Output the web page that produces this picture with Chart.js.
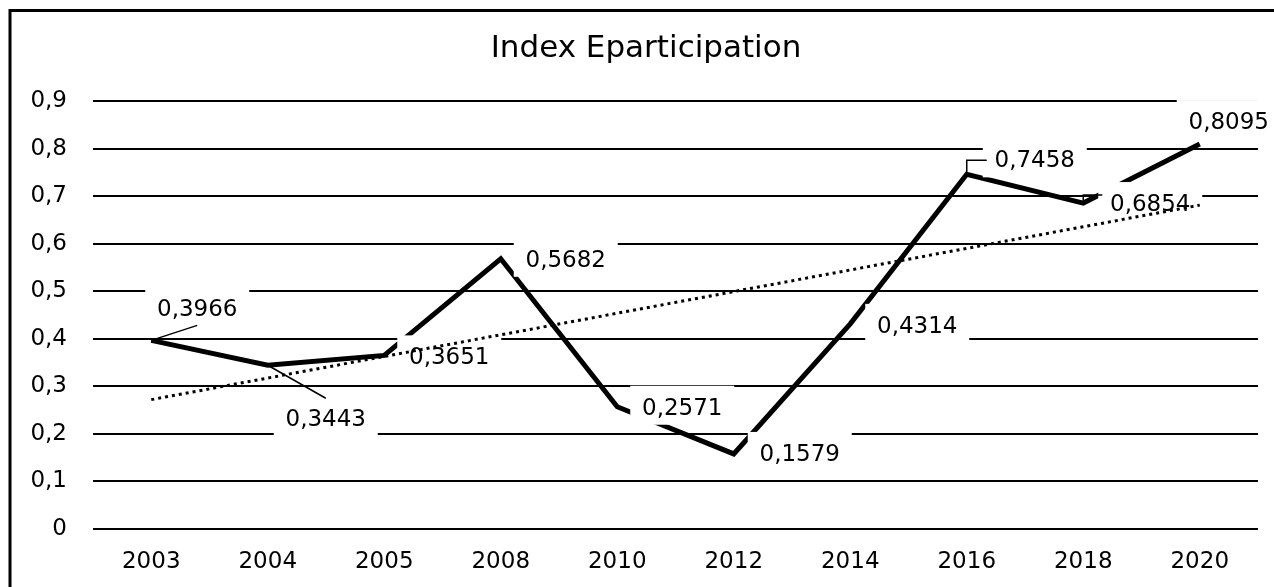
<!DOCTYPE html>
<html>
<head>
<meta charset="utf-8">
<script src="https://cdn.jsdelivr.net/npm/chart.js@4/dist/chart.umd.min.js"></script>
<style>
  html, body { margin: 0; padding: 0; background: #fff; }
  canvas { display: block; }
</style>
</head>
<body>
<canvas id="chart" width="1274" height="587"></canvas>
<script>
const chartTitle = 'Index Eparticipation';
const years = ['2003', '2004', '2005', '2008', '2010', '2012', '2014', '2016', '2018', '2020'];
const indexValues = [0.3966, 0.3443, 0.3651, 0.5682, 0.2571, 0.1579, 0.4314, 0.7458, 0.6854, 0.8095];
// linear trend, only its two ends
const trendValues = [0.272, null, null, null, null, null, null, null, null, 0.681];

function fmt(v) {
  return v === 0 ? '0' : String(v).replace('.', ',');
}

// label box offsets from the point (px), and whether a leader line is drawn
const labelOffsets = [[46, -31], [58, 54], [65, 2], [65, 1], [65, 1], [66, 0], [67, 2], [68, -14], [67, 1], [29, -22]];
const labelLeaders = [true, true, false, false, false, false, false, true, true, false];

const boxLabels = {
  id: 'boxLabels',
  afterDatasetDraw(chart, args) {
    if (args.index !== 0) return;
    const ctx = chart.ctx;
    const meta = chart.getDatasetMeta(0);
    ctx.save();
    ctx.font = '23px "DejaVu Sans"';
    ctx.textAlign = 'center';
    ctx.textBaseline = 'middle';
    meta.data.forEach((pt, i) => {
      const cx = pt.x + labelOffsets[i][0];
      const cy = pt.y + labelOffsets[i][1];
      const w = 104;
      const l = cx - w / 2, t = cy - 22, b = cy + 17;
      ctx.fillStyle = '#fff';
      ctx.fillRect(l, t, w, b - t);
      if (labelLeaders[i]) {
        ctx.strokeStyle = '#000';
        ctx.lineWidth = 1.5;
        ctx.beginPath();
        ctx.moveTo(pt.x, pt.y);
        if (pt.y > b) {
          ctx.lineTo(cx, b - 1);
        } else if (pt.y < t) {
          ctx.lineTo(cx, t + 1);
        } else {
          const ly = Math.min(pt.y - 8, cy);
          ctx.lineTo(pt.x, ly);
          ctx.lineTo(l + 4, ly);
        }
        ctx.stroke();
      }
      ctx.fillStyle = '#000';
      ctx.fillText(fmt(indexValues[i]), cx, cy + 1);
    });
    ctx.restore();
  },
  afterDraw(chart) {
    const ctx = chart.ctx;
    ctx.save();
    // title, centred a bit right of the canvas middle like the source
    ctx.fillStyle = '#000';
    ctx.font = '31px "DejaVu Sans"';
    ctx.textAlign = 'center';
    ctx.textBaseline = 'middle';
    ctx.fillText(chartTitle, 646, 49);
    // frame
    ctx.strokeStyle = '#000';
    ctx.lineWidth = 3;
    ctx.strokeRect(10, 10.5, 1400, 800);
    ctx.restore();
  }
};

Chart.defaults.font.family = '"DejaVu Sans"';
Chart.defaults.color = '#000';

new Chart(document.getElementById('chart'), {
  type: 'line',
  data: {
    labels: years,
    datasets: [
      {
        label: chartTitle,
        data: indexValues,
        borderColor: '#000',
        borderWidth: 5,
        borderJoinStyle: 'miter',
        pointRadius: 0,
        tension: 0,
        order: 2
      },
      {
        label: 'Trend',
        data: trendValues,
        borderColor: '#000',
        borderWidth: 3,
        borderDash: [3, 4],
        pointRadius: 0,
        spanGaps: true,
        order: 1
      }
    ]
  },
  options: {
    responsive: false,
    animation: false,
    events: [],
    layout: { padding: { top: 101, left: 10, right: 16, bottom: 0 } },
    plugins: {
      legend: { display: false },
      tooltip: { enabled: false },
      title: { display: false }
    },
    scales: {
      x: {
        offset: true,
        grid: { display: false },
        border: { display: false },
        ticks: { font: { size: 23 }, padding: 11, maxRotation: 0 },
        afterFit(scale) { scale.height = 58; }
      },
      y: {
        min: 0,
        max: 0.9,
        grid: { color: '#000', lineWidth: 2, drawTicks: false },
        border: { display: false },
        ticks: {
          stepSize: 0.1,
          padding: 26,
          font: { size: 23 },
          callback: v => v === 0 ? '0' : v.toFixed(1).replace('.', ',')
        },
        afterFit(scale) { scale.width = 83; }
      }
    }
  },
  plugins: [boxLabels]
});
</script>
</body>
</html>
